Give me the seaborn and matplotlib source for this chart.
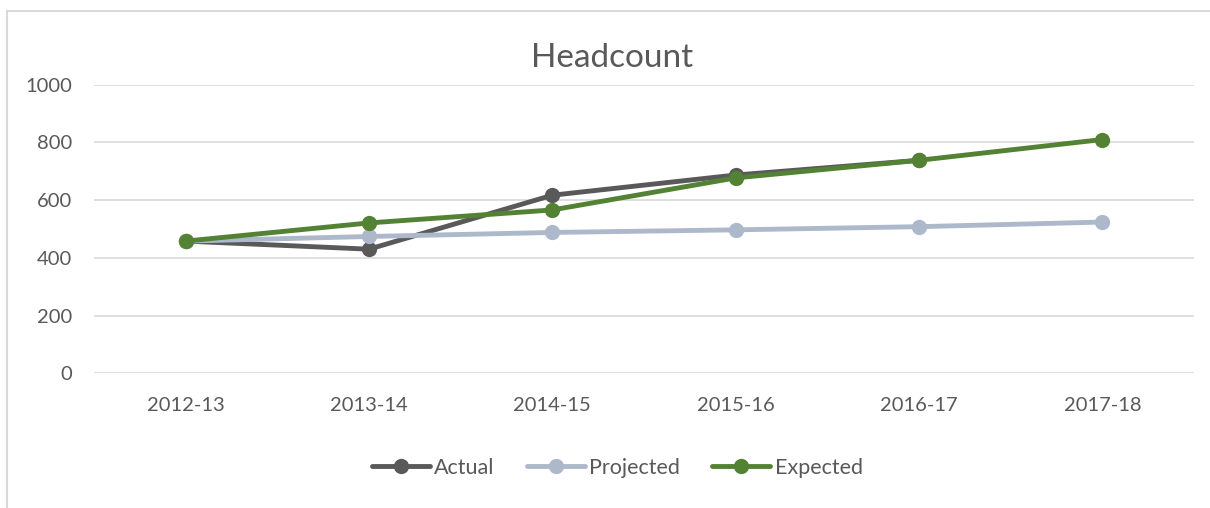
import numpy as np
import pandas as pd
import seaborn as sns
import matplotlib.pyplot as plt
from matplotlib.patches import Rectangle

sns.set_theme(style="white")
plt.rcParams["font.family"] = ["Lato", "DejaVu Sans"]

YEARS = ["2012-13", "2013-14", "2014-15", "2015-16", "2016-17", "2017-18"]
ACTUAL = [458, 430, 617, 687, 738, np.nan]
PROJECTED = [458, 474, 488, 497, 508, 524]
EXPECTED = [458, 521, 566, 677, 738, 810]

SERIES_COLORS = {
    "Actual": "#595959",
    "Projected": "#ADB9CA",
    "Expected": "#548235",
}
TEXT_COLOR = "#595959"
GRID_COLOR = "#D9D9D9"

df = pd.DataFrame({
    "year": YEARS * 3,
    "series": ["Actual"] * 6 + ["Projected"] * 6 + ["Expected"] * 6,
    "headcount": ACTUAL + PROJECTED + EXPECTED,
})

fig = plt.figure(figsize=(12.1, 5.08), dpi=100)
ax = fig.add_axes([0.0777, 0.2652, 0.9091, 0.5681])

sns.lineplot(
    data=df,
    x="year",
    y="headcount",
    hue="series",
    palette=SERIES_COLORS,
    marker="o",
    markersize=11,
    markeredgewidth=0,
    linewidth=3.5,
    sort=False,
    ax=ax,
)

ax.set_xlim(-0.5, len(YEARS) - 0.5)
ax.set_ylim(0, 1000)
ax.set_yticks(range(0, 1001, 200))
ax.yaxis.grid(True, color=GRID_COLOR, linewidth=1.2)
ax.set_axisbelow(True)
for side in ["top", "right", "left", "bottom"]:
    ax.spines[side].set_visible(False)
ax.tick_params(axis="both", length=0, labelsize=14.5, labelcolor=TEXT_COLOR)
ax.tick_params(axis="x", pad=17)
ax.tick_params(axis="y", pad=16)
ax.set_xlabel("")
ax.set_ylabel("")

fig.text(0.506, 0.885, "Headcount", ha="center", va="center",
         fontsize=24, color=TEXT_COLOR)

handles, labels = ax.get_legend_handles_labels()
ax.legend(
    handles, labels,
    loc="center", bbox_to_anchor=(0.51, 0.079), bbox_transform=fig.transFigure,
    ncol=3, frameon=False, fontsize=15.5, labelcolor=TEXT_COLOR,
    handlelength=2.7, handletextpad=0.2, columnspacing=1.5,
)

# outer chart frame
fig.patches.append(Rectangle((7 / 1210, -0.05), 1.1, 1 - 11 / 508 + 0.05,
                             transform=fig.transFigure, fill=False,
                             edgecolor=GRID_COLOR, linewidth=1.5))

fig.savefig("out.png", dpi=100)
